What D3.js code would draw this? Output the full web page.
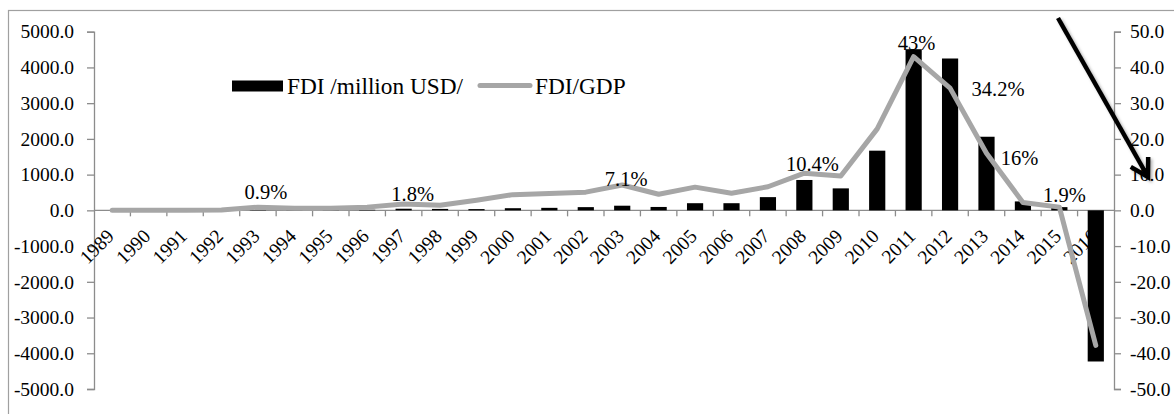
<!DOCTYPE html>
<html>
<head>
<meta charset="utf-8">
<script src="https://cdn.jsdelivr.net/npm/d3@7"></script>
<style>
body { margin: 0; background: #fff; }
svg text { font-family: 'Liberation Serif', 'Times New Roman', Times, 'DejaVu Serif', serif !important; fill: #000; }
</style>
</head>
<body>
<script>
var years = [1989, 1990, 1991, 1992, 1993, 1994, 1995, 1996, 1997, 1998, 1999, 2000, 2001, 2002,
	2003, 2004, 2005, 2006, 2007, 2008, 2009, 2010, 2011, 2012, 2013, 2014, 2015, 2016];
// FDI, million USD
var fdi = [0, 0, 0, 0, 8, 6, 10, 16, 45, 40, 35, 60, 70, 90,
	130, 95, 200, 200, 370, 850, 615, 1670, 4510, 4250, 2060, 250, 90, -4230];
// FDI/GDP, %
var fdiGdp = [0, 0, 0, 0.1, 0.9, 0.6, 0.6, 0.9, 1.8, 1.4, 2.8, 4.4, 4.7, 5.1,
	7.1, 4.5, 6.5, 4.8, 6.6, 10.4, 9.6, 22.8, 43, 34.2, 16, 2.2, 0.9, -37.8];
var leftTicks = [5000, 4000, 3000, 2000, 1000, 0, -1000, -2000, -3000, -4000, -5000];
var rightTicks = [50, 40, 30, 20, 10, 0, -10, -20, -30, -40, -50];
var labelYears = [1993, 1997, 2003, 2008, 2011, 2012, 2013, 2015];
var labelTexts = ["0.9%", "1.8%", "7.1%", "10.4%", "43%", "34.2%", "16%", "1.9%"];
var seriesNames = ["FDI /million USD/", "FDI/GDP"];

var width = 1174, height = 414;
var axisColor = "#8c8c8c";
var lineColor = "#a6a6a6";
var serif = "'Liberation Serif', 'Times New Roman', serif";

var svg = d3.select("body").append("svg")
	.attr("width", width)
	.attr("height", height);

svg.append("rect")
	.attr("x", 8.5).attr("y", 10.5)
	.attr("width", 1200).attr("height", 430)
	.attr("fill", "none")
	.attr("stroke", "#a0a0a0")
	.attr("stroke-width", 1.2);

var x = d3.scaleBand().domain(years).range([94, 1114]);
var bw = x.bandwidth();
var yL = d3.scaleLinear().domain([-5000, 5000]).range([389, 31.7]);
var yR = d3.scaleLinear().domain([-50, 50]).range([389, 31.7]);
var y0 = yL(0);

var cx = function(yr){ return x(yr) + bw / 2; };

// y axes
var leftAxis = svg.append("g")
	.attr("transform", "translate(94,0)")
	.call(d3.axisLeft(yL).tickValues(leftTicks).tickSizeOuter(0).tickSize(7).tickPadding(13)
		.tickFormat(function(d){ return d.toFixed(1); }));

var rightAxis = svg.append("g")
	.attr("transform", "translate(1114,0)")
	.call(d3.axisRight(yR).tickValues(rightTicks).tickSizeOuter(0).tickSize(7).tickPadding(9)
		.tickFormat(function(d){ return d.toFixed(1); }));

[leftAxis, rightAxis].forEach(function(g){
	g.attr("font-family", serif).attr("font-size", 19.5);
	g.select(".domain").attr("stroke", axisColor).attr("stroke-width", 1.3);
	g.selectAll(".tick line").attr("stroke", axisColor).attr("stroke-width", 1.3);
	g.selectAll(".tick text").attr("fill", "#000");
});

// category axis
svg.append("line")
	.attr("x1", 94).attr("x2", 1114)
	.attr("y1", y0).attr("y2", y0)
	.attr("stroke", axisColor)
	.attr("stroke-width", 1.3);

svg.selectAll("line.xtick")
	.data(years.slice(1))
	.enter().append("line")
	.attr("class", "xtick")
	.attr("x1", function(d){ return x(d); })
	.attr("x2", function(d){ return x(d); })
	.attr("y1", y0).attr("y2", y0 + 6)
	.attr("stroke", axisColor)
	.attr("stroke-width", 1.3);

svg.selectAll("text.xlab")
	.data(years)
	.enter().append("text")
	.attr("class", "xlab")
	.attr("text-anchor", "end")
	.attr("font-family", serif)
	.attr("font-size", 19.5)
	.attr("transform", function(d){
		return "translate(" + (cx(d) + 3) + "," + (y0 + 27) + ") rotate(-45)";
	})
	.text(function(d){ return d; });

// bars
var barW = bw / 2.25;
svg.selectAll("rect.bar")
	.data(years)
	.enter().append("rect")
	.attr("class", "bar")
	.attr("x", function(d){ return cx(d) - barW / 2; })
	.attr("width", barW)
	.attr("y", function(d, i){ return Math.min(yL(fdi[i]), y0); })
	.attr("height", function(d, i){ return Math.abs(yL(fdi[i]) - y0); })
	.attr("fill", "#000");

// FDI/GDP line
var line = d3.line()
	.x(function(d){ return cx(d); })
	.y(function(d, i){ return yR(fdiGdp[i]); });

svg.append("path")
	.datum(years)
	.attr("d", line)
	.attr("fill", "none")
	.attr("stroke", lineColor)
	.attr("stroke-width", 5)
	.attr("stroke-linejoin", "round")
	.attr("stroke-linecap", "round");

// data labels, nudged like the original
var nudge = {1993: [8, -8], 1997: [9, -3], 2003: [4, 1], 2008: [8, -2],
	2011: [3, -7], 2012: [48, 8], 2013: [33, 12], 2015: [5, -5]};

svg.selectAll("text.dlab")
	.data(labelYears)
	.enter().append("text")
	.attr("class", "dlab")
	.attr("text-anchor", "middle")
	.attr("font-family", serif)
	.attr("font-size", 20.5)
	.attr("x", function(d){ return cx(d) + nudge[d][0]; })
	.attr("y", function(d){ return yR(fdiGdp[years.indexOf(d)]) + nudge[d][1]; })
	.text(function(d, i){ return labelTexts[i]; });

// legend
var legend = svg.append("g").attr("font-family", serif).attr("font-size", 23.3);
legend.append("rect")
	.attr("x", 232).attr("y", 80.5)
	.attr("width", 51).attr("height", 11)
	.attr("fill", "#000");
legend.append("text")
	.attr("x", 287).attr("y", 93.5)
	.text(seriesNames[0]);
legend.append("line")
	.attr("x1", 480).attr("x2", 530)
	.attr("y1", 85.5).attr("y2", 85.5)
	.attr("stroke", lineColor)
	.attr("stroke-width", 5)
	.attr("stroke-linecap", "round");
legend.append("text")
	.attr("x", 535).attr("y", 93.5)
	.text(seriesNames[1]);

// arrow annotation
var defs = svg.append("defs");
defs.append("filter")
	.attr("id", "shadow")
	.append("feDropShadow")
	.attr("dx", 2).attr("dy", 2)
	.attr("stdDeviation", 1.5)
	.attr("flood-opacity", 0.3);

var a0 = [1058, 18], a1 = [1148, 177];
var len = Math.hypot(a0[0] - a1[0], a0[1] - a1[1]);
var ux = (a0[0] - a1[0]) / len, uy = (a0[1] - a1[1]) / len;
var wing = 20, c = Math.cos(Math.PI / 6), s = Math.sin(Math.PI / 6);
var w1 = [a1[0] + wing * (ux * c - uy * s), a1[1] + wing * (ux * s + uy * c)];
var w2 = [a1[0] + wing * (ux * c + uy * s), a1[1] + wing * (-ux * s + uy * c)];

var arrow = svg.append("g").attr("filter", "url(#shadow)");
arrow.append("line")
	.attr("x1", a0[0]).attr("y1", a0[1])
	.attr("x2", a1[0]).attr("y2", a1[1])
	.attr("stroke", "#000")
	.attr("stroke-width", 4.5);
arrow.append("path")
	.attr("d", "M" + w1 + "L" + a1 + "L" + w2)
	.attr("fill", "none")
	.attr("stroke", "#000")
	.attr("stroke-width", 4.5)
	.attr("stroke-linejoin", "miter");
</script>
</body>
</html>
